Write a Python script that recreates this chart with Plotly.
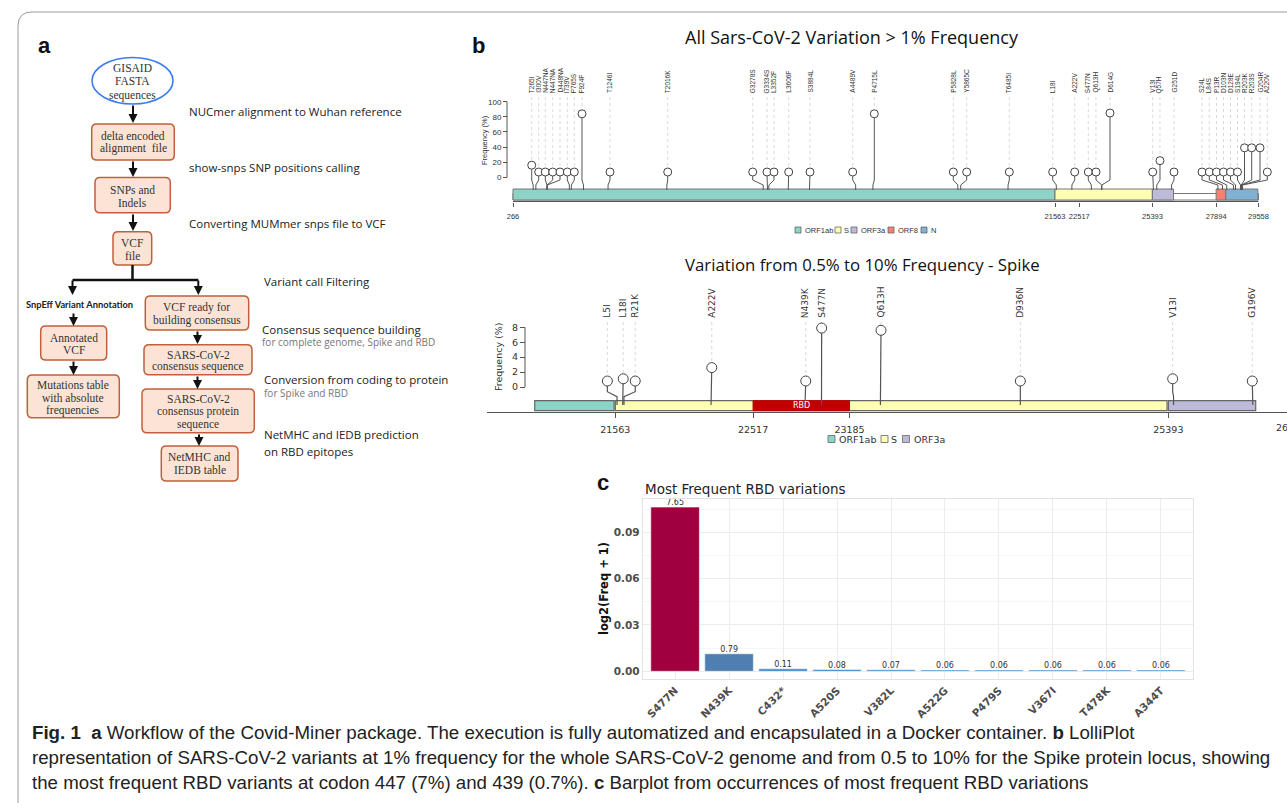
import math
import plotly.graph_objects as go

W, H = 1287, 803

# ======================= DATA =======================
# Panel b, whole genome lollipop
genome_genes = ["ORF1ab", "S", "ORF3a", "ORF8", "N"]
genome_gene_start = [266, 21563, 25393, 27894, 28274]
genome_gene_end = [21555, 25384, 26220, 28259, 29533]
genome_extent = [266, 29558]
genome_ticks = [266, 21563, 22517, 25393, 27894, 29558]
top_yticks = [0, 20, 40, 60, 80, 100]

top_mut = ["T265I", "I300V", "N447NA", "N447NA", "D448NA", "I739V", "P765S", "F924F",
           "T1246I", "T2016K", "G3278S", "G3334S", "L3352F", "L3606F", "S3884L", "A4489V",
           "P4715L", "P5828L", "Y5865C", "T6485I", "L18I", "A222V", "S477N", "Q613H",
           "D614G", "V13I", "Q57H", "G251D", "S24L", "L84S", "P13R", "D103N", "D128E",
           "S194L", "R203K", "R203S", "G204R", "A220V"]
top_pos = [1058, 1163, 1604, 1604, 1607, 2480, 2558, 3035, 4001, 6311, 10097, 10265,
           10319, 11081, 11915, 13730, 14408, 17747, 17858, 19718, 21614, 22226, 22991,
           23399, 23402, 25429, 25561, 26143, 27963, 28143, 28310, 28580, 28655, 28853,
           28880, 28880, 28883, 28931]
top_label_pos = [1001, 1276, 1535, 1826, 2113, 2400, 2675, 2977, 4077, 6345, 9685, 10246,
                 10521, 11099, 11936, 13614, 14463, 17567, 18093, 19767, 21472, 22337,
                 22871, 23174, 23724, 25402, 25688, 26239, 27339, 27626, 27908, 28184,
                 28459, 28734, 29009, 29292, 29618, 29905]
top_freq = [16, 7, 7, 7, 7, 7, 7, 84, 7, 7, 7, 7, 7, 7, 7, 7, 84, 7, 7, 7, 7, 7, 7, 7,
            85, 7, 22, 7, 7, 7, 7, 7, 7, 7, 39, 39, 39, 7]

# Panel b, Spike locus lollipop
spike_genes = ["ORF1ab", "S", "ORF3a"]
spike_gene_start = [21005, 21563, 25393]
spike_gene_end = [21555, 25384, 25998]
rbd_region = [22517, 23185]
spike_ticks = [21563, 22517, 23185, 25393]
spike_extra_tick = 26220
spike_yticks = [0, 2, 4, 6, 8]
spike_mut = ["L5I", "L18I", "R21K", "A222V", "N439K", "S477N", "Q613H", "D936N", "V13I", "G196V"]
spike_pos = [21575, 21614, 21623, 22226, 22877, 22991, 23399, 24368, 25429, 25978]
spike_label_pos = [21508, 21618, 21701, 22231, 22882, 22992, 23403, 24368, 25423, 25974]
spike_freq = [0.8, 1.1, 0.8, 2.6, 0.8, 7.9, 7.6, 0.8, 1.1, 0.8]

# Panel c, RBD bar plot
rbd_variants = ["S477N", "N439K", "C432*", "A520S", "V382L", "A522G", "P479S", "V367I", "T478K", "A344T"]
rbd_freq = [7.65, 0.79, 0.11, 0.08, 0.07, 0.06, 0.06, 0.06, 0.06, 0.06]
rbd_yticks = [0.0, 0.03, 0.06, 0.09]

# ======================= STYLE / LAYOUT =======================
gene_colors = {"ORF1ab": "#8dd3c7", "S": "#ffffb3", "ORF3a": "#bebada",
               "ORF8": "#fb8072", "N": "#80b1d3"}
bar_colors = ["#a0003d", "#4f7fb1", "#3d87c8", "#3d87c8", "#3d87c8", "#3d87c8",
              "#3d87c8", "#3d87c8", "#3d87c8", "#3d87c8"]


def PX(x):
    return x / W


def PY(y):
    return 1 - y / H


# top panel pixel mapping
T_X0, T_K = 513.0, 0.02545
T_Y0, T_KY = 177.3, 0.756


def t_bp(px):
    return genome_extent[0] + (px - T_X0) / T_K


def t_v(py):
    return (T_Y0 - py) / T_KY


# spike panel pixel mapping
S_X0, S_K = 615.3, 0.1444
S_Y0, S_KY = 387.0, 7.46


def s_bp(px):
    return spike_ticks[0] + (px - S_X0) / S_K


def s_px(bp):
    return S_X0 + (bp - spike_ticks[0]) * S_K


def s_v(py):
    return (S_Y0 - py) / S_KY


fig = go.Figure()
shapes = []
annotations = []


def txt(x, y, text, size=11, color="#222", family="Open Sans", xanchor="left",
        yanchor="middle", weight="normal", angle=0, xref="paper", yref="paper"):
    annotations.append(dict(
        x=PX(x) if xref == "paper" else x, y=PY(y) if yref == "paper" else y,
        xref=xref, yref=yref, text=text, showarrow=False, xanchor=xanchor,
        yanchor=yanchor, textangle=angle,
        font=dict(size=size, color=color, family=family, weight=weight)))


def rrect_path(x0, y0, x1, y1, r):
    pts = [("M", x0 + r, y0), ("L", x1 - r, y0), ("Q", x1, y0, x1, y0 + r),
           ("L", x1, y1 - r), ("Q", x1, y1, x1 - r, y1), ("L", x0 + r, y1),
           ("Q", x0, y1, x0, y1 - r), ("L", x0, y0 + r), ("Q", x0, y0, x0 + r, y0)]
    s = ""
    for p in pts:
        cmd = p[0]
        coords = p[1:]
        parts = []
        for i in range(0, len(coords), 2):
            parts.append(f"{PX(coords[i]):.5f},{PY(coords[i + 1]):.5f}")
        s += cmd + " " + " ".join(parts) + " "
    return s + "Z"


def box(x0, y0, x1, y1, lines, ys, cx=None):
    shapes.append(dict(type="path", xref="paper", yref="paper",
                       path=rrect_path(x0, y0, x1, y1, 5),
                       fillcolor="#fbe4d5", line=dict(color="#c0603c", width=1.5)))
    cx = (x0 + x1) / 2 if cx is None else cx
    for t, yy in zip(lines, ys):
        txt(cx, yy, t, size=11.5, color="#333", family="Liberation Serif", xanchor="center")


def arrow(x, y0, y1):
    annotations.append(dict(x=PX(x), y=PY(y1), xref="paper", yref="paper", text="",
                            showarrow=True, axref="pixel", ayref="pixel", ax=0, ay=-(y1 - y0),
                            arrowhead=2, arrowsize=0.9, arrowwidth=2, arrowcolor="#111",
                            standoff=0, startstandoff=0))


def pline(x0, y0, x1, y1, color="#111", width=2.5):
    shapes.append(dict(type="line", xref="paper", yref="paper", x0=PX(x0), y0=PY(y0),
                       x1=PX(x1), y1=PY(y1), line=dict(color=color, width=width)))


# ---------------- outer frame ----------------
shapes.append(dict(type="path", xref="paper", yref="paper",
                   path=rrect_path(18, 12, 1330, 830, 14), line=dict(color="#9a9a9a", width=1)))

# ---------------- panel a: workflow ----------------
txt(44, 45, "a", size=22, color="#111", family="Liberation Sans", xanchor="center", weight="bold")
shapes.append(dict(type="circle", xref="paper", yref="paper", x0=PX(92), x1=PX(173),
                   y0=PY(104), y1=PY(57.5), fillcolor="white",
                   line=dict(color="#3b7ded", width=1.6)))
for t, yy in zip(["GISAID", "FASTA", "sequences"], [68, 81.5, 95]):
    txt(132.5, yy, t, size=11.5, color="#333", family="Liberation Serif", xanchor="center")

box(91.7, 124, 174.3, 160, ["delta encoded", "alignment  file"], [136, 148.5])
box(95, 177.5, 170.3, 212.7, ["SNPs and", "Indels"], [189.5, 202.5])
box(113, 231.7, 151.7, 265, ["VCF", "file"], [243, 256.5])
box(40.7, 326, 106.7, 360, ["Annotated", "VCF"], [337.5, 350])
box(27.3, 375, 119.3, 417.7, ["Mutations table", "with absolute", "frequencies"], [384.5, 397.5, 410.5])
box(145.3, 296, 248.7, 330, ["VCF ready for", "building consensus"], [307.5, 320.5])
box(144, 344.7, 252, 374.7, ["SARS-CoV-2", "consensus sequence"], [354.5, 366.7])
box(142, 389, 254.3, 432.7, ["SARS-CoV-2", "consensus protein", "sequence"], [398.5, 411.5, 424.5])
box(161.3, 446, 238, 481, ["NetMHC and", "IEDB table"], [457, 470])

arrow(133, 104, 123)
arrow(133, 160, 177)
arrow(133, 213, 231)
pline(132.5, 265, 132.5, 280)
pline(72.5, 280, 198.3, 280)
arrow(72.5, 279, 295)
arrow(198.3, 279, 295)
arrow(73.5, 312, 326)
arrow(73.5, 360, 375)
arrow(197.5, 330, 344)
arrow(197.5, 375, 389)
arrow(199, 433, 446)

txt(79, 304.5, "SnpEff Variant Annotation", size=9.3, color="#222", family="Lato",
    xanchor="center", weight="bold")
SIDE = 11.5
txt(187, 111, "NUCmer alignment to Wuhan reference", size=SIDE)
txt(187, 167.5, "show-snps SNP positions calling", size=SIDE)
txt(187, 223.5, "Converting MUMmer snps file to VCF", size=SIDE)
txt(262, 281, "Variant call Filtering", size=SIDE)
txt(260, 329, "Consensus sequence building", size=SIDE)
txt(260, 342.5, "for complete genome, Spike and RBD", size=10, color="#777")
txt(262, 379, "Conversion from coding to protein", size=SIDE)
txt(262, 393.5, "for Spike and RBD", size=10, color="#777")
txt(262, 435, "NetMHC and IEDB prediction", size=SIDE)
txt(262, 451, "on RBD epitopes", size=SIDE)

# ---------------- panel b: whole genome lollipop ----------------
txt(478, 45, "b", size=22, color="#111", family="Liberation Sans", xanchor="center", weight="bold")
txt(852, 37, "All Sars-CoV-2 Variation &gt; 1% Frequency", size=18, color="#111",
    family="Open Sans", xanchor="center")

T_LABEL_BOTTOM, T_GUIDE_TOP = 95.0, 97.0
T_BEND1, T_BEND2, T_STEM_END = 180.0, 185.0, 190.0
T_BAR_TOP, T_BAR_BOT, T_BACK_TOP = 189.0, 200.0, 193.5

# backbone + genes
shapes.append(dict(type="rect", xref="x", yref="y", x0=genome_extent[0], x1=genome_extent[1],
                   y0=t_v(T_BAR_BOT), y1=t_v(T_BACK_TOP), fillcolor="white",
                   line=dict(color="#777", width=1), layer="below"))
for g, a, b in zip(genome_genes, genome_gene_start, genome_gene_end):
    shapes.append(dict(type="rect", xref="x", yref="y", x0=a, x1=b, y0=t_v(T_BAR_BOT),
                       y1=t_v(T_BAR_TOP), fillcolor=gene_colors[g],
                       line=dict(color="#777", width=1), layer="below"))
# axis lines
shapes.append(dict(type="line", xref="x", yref="paper", x0=genome_extent[0], x1=genome_extent[1],
                   y0=PY(201.5), y1=PY(201.5), line=dict(color="#555", width=1)))
shapes.append(dict(type="line", xref="paper", yref="y", x0=PX(507), x1=PX(507),
                   y0=top_yticks[0], y1=top_yticks[-1], line=dict(color="#555", width=1)))

gx, gy, sx, sy = [], [], [], []
for p, lp, f in zip(top_pos, top_label_pos, top_freq):
    gx += [lp, lp, None]
    gy += [t_v(T_GUIDE_TOP), f, None]
    sx += [lp, lp, p, p, None]
    sy += [f, t_v(T_BEND1), t_v(T_BEND2), t_v(T_STEM_END), None]
fig.add_trace(go.Scatter(x=gx, y=gy, mode="lines", xaxis="x", yaxis="y", hoverinfo="skip",
                         line=dict(color="#cfcfcf", width=0.8, dash="dot"), showlegend=False))
fig.add_trace(go.Scatter(x=sx, y=sy, mode="lines", xaxis="x", yaxis="y", hoverinfo="skip",
                         line=dict(color="#555", width=1), showlegend=False))
fig.add_trace(go.Scatter(x=top_label_pos, y=top_freq, mode="markers", xaxis="x", yaxis="y",
                         text=top_mut, showlegend=False, cliponaxis=False,
                         marker=dict(symbol="circle", size=8, color="white",
                                     line=dict(color="#444", width=1))))
for m, lp in zip(top_mut, top_label_pos):
    annotations.append(dict(x=lp, y=t_v(T_LABEL_BOTTOM), xref="x", yref="y", text=m,
                            showarrow=False, textangle=-90, xanchor="center", yanchor="bottom",
                            font=dict(size=6.5, color="#333", family="Liberation Sans")))
txt(484, 140, "Frequency (%)", size=7.5, color="#333", family="Liberation Sans",
    xanchor="center", angle=-90)

# legend (top)
for g, lx, tx in zip(genome_genes, [795, 835, 851, 888, 921], [804, 844, 860, 897, 930]):
    shapes.append(dict(type="rect", xref="paper", yref="paper", x0=PX(lx), x1=PX(lx + 6),
                       y0=PY(233), y1=PY(227), fillcolor=gene_colors[g],
                       line=dict(color="#666", width=0.8)))
    txt(tx - 1.5, 230, g, size=7.5, color="#333", family="Liberation Sans")

# ---------------- panel b: Spike lollipop ----------------
txt(862, 264, "Variation from 0.5% to 10% Frequency - Spike", size=16.8, color="#111",
    family="Open Sans", xanchor="center")
S_LABEL_BOTTOM, S_GUIDE_TOP = 320.0, 322.0
S_BEND1, S_BEND2, S_STEM_END = 391.7, 396.7, 405.0
S_BAR_TOP, S_BAR_BOT = 400.7, 410.7

for g, a, b in zip(spike_genes, spike_gene_start, spike_gene_end):
    shapes.append(dict(type="rect", xref="x2", yref="y2", x0=a, x1=b, y0=s_v(S_BAR_BOT),
                       y1=s_v(S_BAR_TOP), fillcolor=gene_colors[g],
                       line=dict(color="#666", width=1.2), layer="below"))
shapes.append(dict(type="rect", xref="x2", yref="y2", x0=rbd_region[0], x1=rbd_region[1],
                   y0=s_v(S_BAR_BOT), y1=s_v(S_BAR_TOP), fillcolor="#c00000",
                   line=dict(color="#c00000", width=1), layer="below"))
annotations.append(dict(x=sum(rbd_region) / 2, y=s_v((S_BAR_TOP + S_BAR_BOT) / 2), xref="x2",
                        yref="y2", text="RBD", showarrow=False,
                        font=dict(size=8, color="white", family="DejaVu Sans")))
shapes.append(dict(type="line", xref="paper", yref="y2", x0=PX(525), x1=PX(525),
                   y0=spike_yticks[0], y1=spike_yticks[-1], line=dict(color="#555", width=1)))

gx, gy, sx, sy = [], [], [], []
for p, lp, f in zip(spike_pos, spike_label_pos, spike_freq):
    gx += [lp, lp, None]
    gy += [s_v(S_GUIDE_TOP), f, None]
    sx += [lp, lp, p, p, None]
    sy += [f, s_v(S_BEND1), s_v(S_BEND2), s_v(S_STEM_END), None]
fig.add_trace(go.Scatter(x=gx, y=gy, mode="lines", xaxis="x2", yaxis="y2", hoverinfo="skip",
                         line=dict(color="#cfcfcf", width=0.8, dash="dot"), showlegend=False))
fig.add_trace(go.Scatter(x=sx, y=sy, mode="lines", xaxis="x2", yaxis="y2", hoverinfo="skip",
                         line=dict(color="#555", width=1.2), showlegend=False))
fig.add_trace(go.Scatter(x=spike_label_pos, y=spike_freq, mode="markers", xaxis="x2", yaxis="y2",
                         text=spike_mut, showlegend=False, cliponaxis=False,
                         marker=dict(symbol="circle", size=10, color="white",
                                     line=dict(color="#444", width=1))))
for m, lp in zip(spike_mut, spike_label_pos):
    annotations.append(dict(x=lp, y=s_v(S_LABEL_BOTTOM), xref="x2", yref="y2", text=m,
                            showarrow=False, textangle=-90, xanchor="center", yanchor="bottom",
                            font=dict(size=9, color="#333", family="DejaVu Sans")))
# last tick label lies at the right page edge (partly cut, as in the reference)
annotations.append(dict(x=PX(s_px(spike_extra_tick) + 3), y=PY(427), xref="paper", yref="paper",
                        text=str(spike_extra_tick), showarrow=False, xanchor="center",
                        yanchor="middle", font=dict(size=9.5, color="#333", family="DejaVu Sans")))
txt(498, 357, "Frequency (%)", size=9.5, color="#333", family="DejaVu Sans",
    xanchor="center", angle=-90)

for g, lx, tx in zip(spike_genes, [828, 881, 902.5], [838, 890, 912.5]):
    shapes.append(dict(type="rect", xref="paper", yref="paper", x0=PX(lx), x1=PX(lx + 7),
                       y0=PY(442.5), y1=PY(435.5), fillcolor=gene_colors[g],
                       line=dict(color="#666", width=0.8)))
    txt(tx - 1, 439, g, size=9.5, color="#333", family="DejaVu Sans")

# ---------------- panel c: bar chart ----------------
txt(603, 483, "c", size=22, color="#111", family="Liberation Sans", xanchor="center", weight="bold")
txt(643, 489, "Most Frequent RBD variations", size=13.5, color="#222", family="DejaVu Sans")
rbd_height = [math.log2(f / 100 + 1) for f in rbd_freq]
fig.add_trace(go.Bar(x=rbd_variants, y=rbd_height, xaxis="x3", yaxis="y3", width=0.9,
                     marker=dict(color=bar_colors, line=dict(color="rgba(255,255,255,0.55)", width=1)),
                     showlegend=False))
fig.add_trace(go.Scatter(x=rbd_variants, y=rbd_height, xaxis="x3", yaxis="y3", mode="text",
                         text=[f"{f:.2f}" for f in rbd_freq], textposition="top center",
                         textfont=dict(size=8, color="#333", family="DejaVu Sans"),
                         cliponaxis=False, showlegend=False))
txt(604, 589, "log2(Freq + 1)", size=11.5, color="#111", family="DejaVu Sans",
    xanchor="center", angle=-90, weight="bold")

# ---------------- caption ----------------
CAP_FONT = "Liberation Sans"
CAP = 18.7
txt(30, 732, "<b>Fig. 1</b>  <b>a</b> Workflow of the Covid-Miner package. The execution is fully "
             "automatized and encapsulated in a Docker container. <b>b</b> LolliPlot",
    size=CAP, color="#222", family=CAP_FONT)
txt(30, 757, "representation of SARS-CoV-2 variants at 1% frequency for the whole SARS-CoV-2 "
             "genome and from 0.5 to 10% for the Spike protein locus, showing",
    size=CAP, color="#222", family=CAP_FONT)
txt(30, 782, "the most frequent RBD variants at codon 447 (7%) and 439 (0.7%). <b>c</b> Barplot "
             "from occurrences of most frequent RBD variations",
    size=CAP, color="#222", family=CAP_FONT)

# ======================= AXES =======================
axis_off = dict(showgrid=False, zeroline=False, showline=False)
fig.update_layout(
    width=W, height=H, margin=dict(l=0, r=0, t=0, b=0),
    paper_bgcolor="white", plot_bgcolor="white", showlegend=False,
    xaxis=dict(domain=[PX(480), 1], range=[t_bp(480), t_bp(1287)], anchor="free",
               position=PY(201.5), tickvals=genome_ticks, ticktext=[str(t) for t in genome_ticks],
               tickangle=0, ticks="outside", ticklen=4,
               tickcolor="#555", ticklabelstandoff=3,
               tickfont=dict(size=7.5, color="#333", family="Liberation Sans"), **axis_off),
    yaxis=dict(domain=[PY(240), PY(60)], range=[t_v(240), t_v(60)], anchor="free",
               position=PX(507), tickvals=top_yticks, ticks="outside", ticklen=4,
               tickcolor="#555",
               tickfont=dict(size=8, color="#333", family="Liberation Sans"), **axis_off),
    xaxis2=dict(domain=[PX(487), 1], range=[s_bp(487), s_bp(1287)], anchor="free",
                position=PY(412.3), tickvals=spike_ticks, ticktext=[str(t) for t in spike_ticks],
                tickangle=0, ticks="outside", ticklen=5,
                tickcolor="#555", showline=True, linecolor="#555", linewidth=1,
                showgrid=False, zeroline=False, ticklabelstandoff=3,
                tickfont=dict(size=9.5, color="#333", family="DejaVu Sans")),
    yaxis2=dict(domain=[PY(425), PY(300)], range=[s_v(425), s_v(300)], anchor="free",
                position=PX(525), tickvals=spike_yticks, ticks="outside", ticklen=5,
                tickcolor="#555",
                tickfont=dict(size=9.5, color="#333", family="DejaVu Sans"), **axis_off),
    xaxis3=dict(domain=[PX(642.7), PX(1193.3)], anchor="y3", type="category",
                range=[-0.6, 9.6], showgrid=True, gridcolor="#ececec", gridwidth=1,
                showline=True, mirror=True, linecolor="#e2e2e2", linewidth=1,
                ticks="", tickangle=-45, zeroline=False,
                tickfont=dict(size=10.5, color="#4d4d4d", family="DejaVu Sans", weight="bold")),
    yaxis3=dict(domain=[PY(679.3), PY(499.3)], anchor="x3", range=[-0.00518, 0.1114],
                tickvals=rbd_yticks, ticktext=[f"{v:.2f}" for v in rbd_yticks],
                showgrid=True, gridcolor="#ececec", gridwidth=1, zeroline=False,
                minor=dict(tickvals=[0.015, 0.045, 0.075, 0.105], showgrid=True,
                           gridcolor="#f6f6f6"),
                showline=True, mirror=True, linecolor="#e2e2e2", linewidth=1, ticks="",
                tickfont=dict(size=10.5, color="#4d4d4d", family="DejaVu Sans", weight="bold")),
    shapes=shapes, annotations=annotations,
)

fig.write_html("out.html", config={"displayModeBar": False},
               post_script="document.body.style.margin='0px';")
